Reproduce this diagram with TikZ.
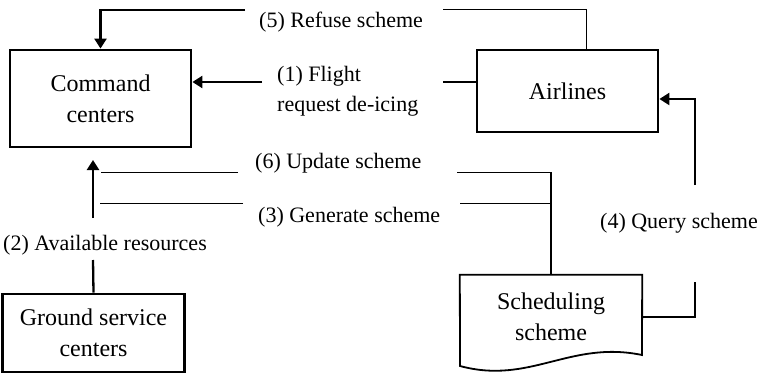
\documentclass[tikz,border=0pt]{standalone}
\usepackage{fontspec}
\setmainfont{Liberation Serif}
\usetikzlibrary{arrows.meta,calc}
\begin{document}
\begin{tikzpicture}[x=1pt,y=-1pt,
  every node/.style={font=\fontsize{22}{30}\selectfont},
  box/.style={draw, line width=2.8pt, align=center, inner sep=0pt, font=\fontsize{24}{31}\selectfont},
  lbl/.style={inner sep=0pt},
  arr/.style={line width=2.3pt, -{Triangle[length=10pt,width=12pt]}},
  heavy/.style={line width=2.3pt},
  midline/.style={line width=1.8pt},
  thinline/.style={line width=1pt}]
\useasboundingbox (0,0) rectangle (759,374);

% boxes
\node[box, minimum width=181pt, minimum height=97pt] (cmd) at (100.5,98.5) {Command\\centers};
\node[box, minimum width=181pt, minimum height=82pt] (air) at (567.5,91) {Airlines};
\node[box, minimum width=182pt, minimum height=78pt] (gnd) at (93.5,333) {Ground service\\centers};
\node[align=center, inner sep=0pt, minimum width=182pt, minimum height=84pt, font=\fontsize{24}{31}\selectfont] (sch) at (551,317) {Scheduling\\scheme};
\draw[line width=1.8pt] (sch.north west) -- (sch.north east) -- (642,355)
  .. controls (570,340) and (530,385) .. (460,366) -- cycle;

% labels
\node[lbl, anchor=base west] (l5) at (259,28) {(5) Refuse scheme};
\node[lbl, anchor=west, align=left] (l1) at (277,91) {(1) Flight\\request de-icing};
\node[lbl, anchor=base west] (l6) at (255,168) {(6) Update scheme};
\node[lbl, anchor=base west] (l3) at (258,222) {(3) Generate scheme};
\node[lbl, anchor=base west] (l2) at (3,250) {(2) Available resources};
\node[lbl, anchor=base west] (l4) at (600,228) {(4) Query scheme};

% free line ends
\coordinate (l5w) at (245,10);
\coordinate (l5e) at (443,10);
\coordinate (l1w) at (262,82);
\coordinate (l1e) at (443,82);
\coordinate (l6w) at (238,172);
\coordinate (l6l) at (101,172);
\coordinate (l6e) at (457,172);
\coordinate (l3w) at (243,203);
\coordinate (l3l) at (100,203);
\coordinate (l3e) at (460,203);
\coordinate (l2t) at (93,218);
\coordinate (l2tip) at (93,160);
\coordinate (l2b) at (93,260);
\coordinate (l4b) at (695,282);
\coordinate (l4t) at (695,185);

% (5) refuse scheme
\draw[arr] (l5w) -| (cmd.north);
\draw[thinline] (l5e) -| ($(air.north)+(18.5,0)$);
% (1) flight request
\draw[arr] (l1w) -- (cmd.east |- l1w);
\draw[heavy] (l1e) -- (air.west |- l1e);
% (6) update scheme
\draw[thinline] (l6w) -- (l6l);
\draw[thinline] (l6e) -- (l6e -| sch.north);
\draw[midline] (l6e -| sch.north) -- (sch.north);
% (3) generate scheme
\draw[thinline] (l3w) -- (l3l);
\draw[thinline] (l3e) -- (l3e -| sch.north);
% (2) available resources
\draw[arr] (l2t) -- (l2tip);
\draw[heavy] (gnd.north) -- (l2b);
% (4) query scheme
\draw[heavy] (sch.east) -| (l4b);
\draw[arr] (l4t) |- ($(air.east)+(0,8)$);
\end{tikzpicture}
\end{document}
